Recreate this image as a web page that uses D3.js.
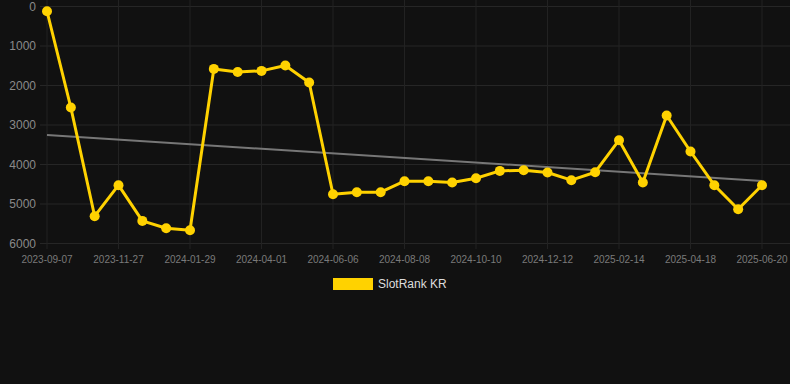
<!DOCTYPE html>
<html><head><meta charset="utf-8">
<script src="https://cdn.jsdelivr.net/npm/d3@7"></script>
<style>html,body{margin:0;padding:0;background:#111111;}svg{display:block;}</style>
</head><body>
<svg id="c" width="790" height="384"></svg>
<script>
const dates = ["2023-09-07","2023-09-30","2023-10-24","2023-11-27","2023-12-18","2024-01-08","2024-01-29","2024-02-19","2024-03-11","2024-04-01","2024-04-22","2024-05-13","2024-06-06","2024-06-27","2024-07-18","2024-08-08","2024-08-29","2024-09-19","2024-10-10","2024-10-31","2024-11-21","2024-12-12","2025-01-02","2025-01-23","2025-02-14","2025-03-07","2025-03-28","2025-04-18","2025-05-09","2025-05-30","2025-06-20"];
const ranks = [120,2557,5309,4524,5428,5613,5663,1580,1656,1630,1494,1924,4752,4701,4701,4423,4423,4456,4347,4162,4144,4203,4397,4195,3385,4456,2760,3671,4524,5132,4524];
const yTicks = [0,1000,2000,3000,4000,5000,6000];
const seriesName = "SlotRank KR";

const svg = d3.select("#c");
const x = d3.scalePoint().domain(dates).range([47, 762]);
const y = d3.scaleLinear().domain([0, 6000]).range([6.5, 243.5]);
const xLabels = dates.filter((d,i)=>i%3===0);

// grid
const g = svg.append("g");
g.selectAll("line.h").data(yTicks).join("line")
  .attr("x1", 40).attr("x2", 790)
  .attr("y1", d=>y(d)).attr("y2", d=>y(d))
  .attr("stroke", "#262626").attr("stroke-width", 1);
g.selectAll("line.v").data(xLabels).join("line")
  .attr("x1", d=>x(d)).attr("x2", d=>x(d))
  .attr("y1", 0).attr("y2", 249)
  .attr("stroke", "#222222").attr("stroke-width", 1);

// y labels
svg.append("g").selectAll("text").data(yTicks).join("text")
  .attr("x", 36).attr("y", d=>y(d)).attr("dy", "0.35em")
  .attr("text-anchor", "end").attr("fill", "#8a8a8a")
  .attr("font-family", "Arial, 'Liberation Sans', sans-serif").attr("font-size", 12)
  .text(d=>d);

// x labels
svg.append("g").selectAll("text").data(xLabels).join("text")
  .attr("x", d=>x(d)).attr("y", 259).attr("dy", "0.35em")
  .attr("text-anchor", "middle").attr("fill", "#7a7a7a")
  .attr("font-family", "Arial, 'Liberation Sans', sans-serif").attr("font-size", 10)
  .text(d=>d);

// trend (linear regression)
const n = ranks.length;
const mx = d3.mean(d3.range(n)), my = d3.mean(ranks);
let sxy=0, sxx=0;
ranks.forEach((v,i)=>{sxy+=(i-mx)*(v-my); sxx+=(i-mx)*(i-mx);});
const slope = sxy/sxx, icpt = my - slope*mx;
svg.append("line")
  .attr("x1", x(dates[0])).attr("y1", y(icpt))
  .attr("x2", x(dates[n-1])).attr("y2", y(icpt+slope*(n-1)))
  .attr("stroke", "#777777").attr("stroke-width", 2);

// line
const line = d3.line().x((d,i)=>x(dates[i])).y(d=>y(d));
svg.append("path").datum(ranks).attr("d", line)
  .attr("fill", "none").attr("stroke", "#FFD200").attr("stroke-width", 3)
  .attr("stroke-linejoin", "round");
svg.append("g").selectAll("circle").data(ranks).join("circle")
  .attr("cx", (d,i)=>x(dates[i])).attr("cy", d=>y(d)).attr("r", 5)
  .attr("fill", "#FFD200");

// legend
svg.append("rect").attr("x", 333).attr("y", 278).attr("width", 40).attr("height", 12).attr("fill", "#FFD200");
svg.append("text").attr("x", 378).attr("y", 284).attr("dy", "0.35em")
  .attr("fill", "#dddddd").attr("font-family", "Arial, 'Liberation Sans', sans-serif").attr("font-size", 12)
  .text(seriesName);
</script>
</body></html>
